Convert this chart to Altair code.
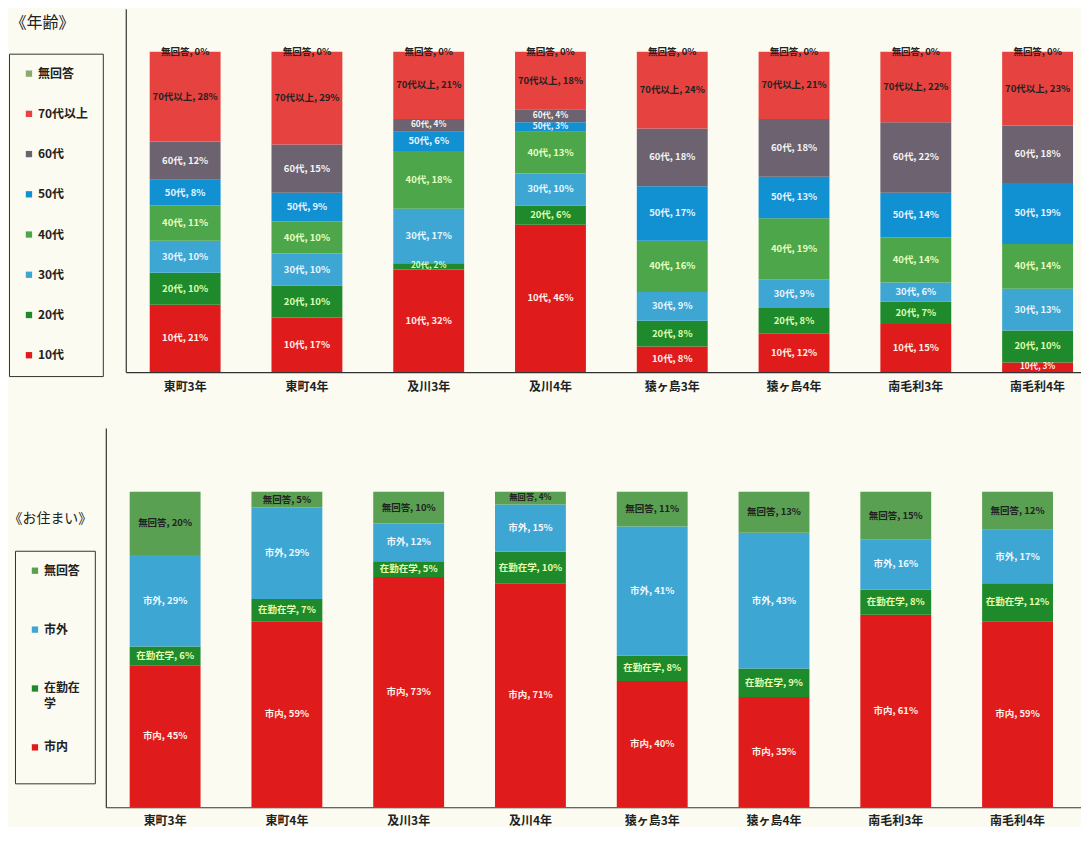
import altair as alt
import pandas as pd

# ---------------- data ----------------
groups = ["東町3年", "東町4年", "及川3年", "及川4年", "猿ヶ島3年", "猿ヶ島4年", "南毛利3年", "南毛利4年"]

# age (stack order bottom -> top)
age_cats = ["10代", "20代", "30代", "40代", "50代", "60代", "70代以上", "無回答"]
age_10 = [21, 17, 32, 46, 8, 12, 15, 3]
age_20 = [10, 10, 2, 6, 8, 8, 7, 10]
age_30 = [10, 10, 17, 10, 9, 9, 6, 13]
age_40 = [11, 10, 18, 13, 16, 19, 14, 14]
age_50 = [8, 9, 6, 3, 17, 13, 14, 19]
age_60 = [12, 15, 4, 4, 18, 18, 22, 18]
age_70 = [28, 29, 21, 18, 24, 21, 22, 23]
age_na = [0, 0, 0, 0, 0, 0, 0, 0]
age_values = [age_10, age_20, age_30, age_40, age_50, age_60, age_70, age_na]

# residence (stack order bottom -> top)
res_cats = ["市内", "在勤在学", "市外", "無回答"]
res_in = [45, 59, 73, 71, 40, 35, 61, 59]
res_work = [6, 7, 5, 10, 8, 9, 8, 12]
res_out = [29, 29, 12, 15, 41, 43, 16, 17]
res_na = [20, 5, 10, 4, 11, 13, 15, 12]
res_values = [res_in, res_work, res_out, res_na]

# ---------------- styles / layout ----------------
FONT = "Noto Sans CJK JP"
BG = "#fbfbf1"
age_bar_colors = ["#e01b1b", "#1f8a2c", "#3ea6d3", "#4ea64a", "#1190d2", "#6c6270", "#e6423f", "#8aaa70"]
age_text_colors = ["#fff0e8", "#dcffb0", "#e8f6ff", "#e6ffc0", "#e8f4ff", "#f4f4f4", "#222222", "#222222"]
res_bar_colors = ["#e01b1b", "#1f8a2c", "#3ea6d3", "#5aa052"]
res_text_colors = ["#fff0e8", "#e8ffb0", "#f0f8ff", "#222222"]

VIEW_W = 1073
VIEW_H = 800


def long_table(cats, values):
    rows = []
    for i, (c, vals) in enumerate(zip(cats, values)):
        for g, v in zip(groups, vals):
            rows.append({"group": g, "cat": c, "idx": i, "value": v})
    return pd.DataFrame(rows)


def panel(df, cats, bar_colors, text_colors, ymax, xrange, yrange, pad_outer, align,
          x_offset, y_offset, label_pad, title, title_x, title_y, title_size,
          legend_x, legend_y, row_pad, pad_leg, label_expr):
    base = alt.Chart(df).transform_stack(
        stack="value", groupby=["group"], as_=["y0", "y1"],
        sort=[alt.SortField("idx", order="ascending")],
    ).transform_calculate(
        mid="(datum.y0 + datum.y1) / 2",
        label="datum.cat + ', ' + datum.value + '%'",
    )
    xaxis = alt.Axis(title=None, orient="bottom", offset=x_offset, labelAngle=0, ticks=False,
                     labelPadding=label_pad, labelFontSize=12, labelFont=FONT, labelColor="#222",
                     labelFontWeight="bold", domainColor="#333", domainWidth=1.2, grid=False)
    xscale = alt.Scale(range=xrange, paddingInner=0.418, paddingOuter=pad_outer, align=align)
    yscale = alt.Scale(domain=[0, ymax], range=yrange, nice=False, zero=True)
    yaxis = alt.Axis(orient="left", offset=y_offset, labels=False, ticks=False, grid=False,
                     domainColor="#333", domainWidth=1.2, titleAngle=0, titleX=title_x,
                     titleY=title_y, titleAlign="left", titleBaseline="top",
                     titleFontSize=title_size, titleFont=FONT, titleColor="#222",
                     titleFontWeight="normal")
    legend_order = list(reversed(cats))
    legend_colors = list(reversed(bar_colors))
    bars = base.mark_bar(strokeWidth=0).encode(
        x=alt.X("group:N", sort=groups, scale=xscale, axis=xaxis),
        y=alt.Y("y0:Q", scale=yscale, title=title, axis=yaxis),
        y2="y1:Q",
        color=alt.Color(
            "cat:N",
            scale=alt.Scale(domain=legend_order, range=legend_colors),
            legend=alt.Legend(
                title=None, orient="none", legendX=legend_x, legendY=legend_y,
                direction="vertical", symbolType="square", symbolSize=40,
                symbolStrokeWidth=0, labelFontSize=12, labelFont=FONT,
                labelFontWeight="bold", labelColor="#222", strokeColor="#333",
                padding=pad_leg, rowPadding=row_pad, labelOffset=3,
                labelExpr=label_expr,
            ),
        ),
    )
    text = base.mark_text(font=FONT, fontWeight="bold").encode(
        x=alt.X("group:N", sort=groups, scale=xscale, axis=xaxis),
        y=alt.Y("mid:Q", scale=yscale, title=title, axis=yaxis),
        text="label:N",
        size=alt.condition("datum.value > 0 && datum.value <= 4", alt.value(8.3), alt.value(9.5)),
        color=alt.Color("cat:N", scale=alt.Scale(domain=cats, range=text_colors), legend=None),
    )
    return alt.layer(bars, text).resolve_scale(color="independent")


age_df = long_table(age_cats, age_values)
res_df = long_table(res_cats, res_values)

# top panel: plot area y 0..364, x 116..1073 (view coordinates)
top = panel(age_df, age_cats, age_bar_colors, age_text_colors,
            ymax=113.4, xrange=[116, 1073], yrange=[364, 0], pad_outer=0.131, align=0.75,
            x_offset=364 - VIEW_H, y_offset=-116, label_pad=9,
            title="《年齢》", title_x=-116, title_y=6, title_size=16,
            legend_x=-1, legend_y=45, row_pad=28.3, pad_leg=14,
            label_expr="datum.label")

# bottom panel: plot area y 420..800, x 96..1073
bottom = panel(res_df, res_cats, res_bar_colors, res_text_colors,
               ymax=120.25, xrange=[96, 1073], yrange=[VIEW_H, 420], pad_outer=0.213, align=0.46,
               x_offset=0, y_offset=-96, label_pad=8,
               title="《お住まい》", title_x=-98, title_y=504, title_size=14,
               legend_x=5, legend_y=543, row_pad=31, pad_leg=14,
               label_expr="datum.label == '在勤在学' ? ['在勤在', '学'] : [datum.label, '']")

chart = alt.layer(top, bottom).resolve_scale(
    color="independent", x="independent", y="independent"
).resolve_axis(x="independent", y="independent").resolve_legend(color="independent").properties(
    width=VIEW_W, height=VIEW_H, padding=0, background=BG
).configure(
    view=alt.ViewConfig(stroke=None),
    style={"guide-label": {"lineHeight": 16}},
)

chart.save("out.html", embed_options={"renderer": "svg", "actions": False})
